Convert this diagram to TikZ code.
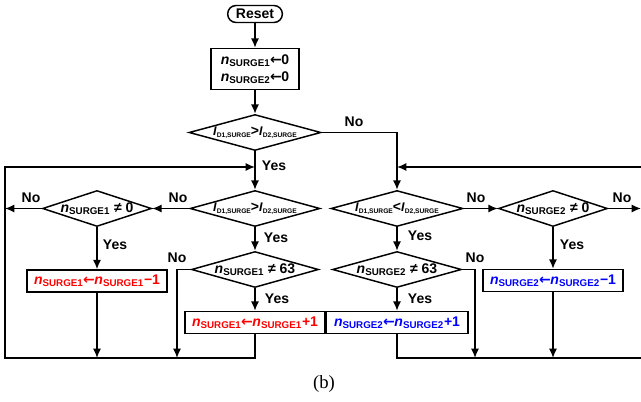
\documentclass[tikz,border=0pt]{standalone}
\usepackage{fontspec}
\setmainfont{Liberation Sans}
\newfontfamily\capfont{Liberation Serif}
\newfontfamily\arrfont{DejaVu Sans}
\usepackage{xcolor}
\usetikzlibrary{arrows.meta,shapes.geometric}
\definecolor{sred}{RGB}{255,0,0}
\definecolor{sblue}{RGB}{0,0,255}
\newcommand\nsg[1]{\textit{n}\textsubscript{SURGE#1}}
\newcommand\lar{{\arrfont\bfseries\kern-0.3pt←\kern-0.3pt}}
\newcommand\isg[1]{{\fontsize{9.4}{10}\selectfont\textit{I}}\raisebox{-1.6pt}{\fontsize{5}{6}\selectfont D#1,SURGE}}

\begin{document}
\begin{tikzpicture}[x=0.75pt,y=-0.75pt,line width=1.1pt,
    font=\bfseries\fontsize{10.5}{12.75}\selectfont,
    dia/.style={diamond,draw,inner sep=0pt,minimum height=27pt,minimum width=#1},
    blk/.style={draw,inner sep=0pt,minimum width=105pt,minimum height=16.5pt},
    arr/.style={-{Latex[length=7pt,width=6pt]}}]
    \useasboundingbox (0,0) rectangle (641,402);
    \node[draw,rounded corners=6.3pt,minimum width=41pt,minimum height=12.75pt,inner sep=0pt] (reset) at (255,14) {Reset};
    \node[draw,align=center,minimum width=66pt,minimum height=30.75pt,inner sep=0pt] (init) at (255,69) {\nsg1\lar0\\\nsg2\lar0};
    \node[dia=99pt,label=center:{\isg1>\isg2}] (d1) at (255,132.5) {};
    \node[dia=97.5pt,label=center:{\isg1>\isg2}] (dl1) at (255,208.5) {};
    \node[dia=81.75pt,label=center:{\nsg1 ≠ 0}] (dl2) at (97,208.5) {};
    \node[dia=95.25pt,label=center:{\nsg1 ≠ 63}] (dl4) at (255,269.5) {};
    \node[blk,text=sred] (bl3) at (97,281) {\nsg1\lar\nsg1−1};
    \node[blk,text=sred] (bl5) at (255,322.5) {\nsg1\lar\nsg1+1};
    \node[dia=99pt,label=center:{\isg1<\isg2}] (dr1) at (397,208.5) {};
    \node[dia=81.75pt,label=center:{\nsg2 ≠ 0}] (dr2) at (553,208.5) {};
    \node[dia=96.75pt,label=center:{\nsg2 ≠ 63}] (dr4) at (397,269.5) {};
    \node[blk,text=sblue] (br3) at (553,280.5) {\nsg2\lar\nsg2−1};
    \node[blk,text=sblue,minimum width=106.5pt] (br5) at (397,322.5) {\nsg2\lar\nsg2+1};

    \node (no1) at (354,122) {No};
    \node (yes1) at (274,166) {Yes};
    \node (no2) at (178,198) {No};
    \node (no3) at (31,198) {No};
    \node (yes2) at (276,238) {Yes};
    \node (yes3) at (115,245) {Yes};
    \node (no4) at (177,258) {No};
    \node (yes4) at (277,299) {Yes};
    \node (no5) at (476,198) {No};
    \node (no6) at (622,198) {No};
    \node (yes5) at (420,236) {Yes};
    \node (yes6) at (572,245) {Yes};
    \node (no7) at (475,258) {No};
    \node (yes7) at (420,299) {Yes};
    \node[font=\capfont\fontsize{14}{16}\selectfont] (cap) at (324,384) {(b)};

    \coordinate (lt) at (5,167);
    \coordinate (lb) at (5,358);
    \coordinate (jl) at (255,167);
    \coordinate (cl) at (177,358);
    \coordinate (rt) at (641,167);
    \coordinate (rb) at (641,358);
    \coordinate (jr) at (397,167);
    \coordinate (cr) at (475,358);

    \draw[arr] (reset) -- (init);
    \draw[arr] (init) -- (d1);
    \draw[arr] (d1) -- (dl1);
    \draw[arr] (d1.east) -| (dr1.north);
    \draw[arr] (dl1.west) -- (dl2.east);
    \draw[arr] (dl2.west) -- (dl2.west -| lt);
    \draw[arr] (dl2) -- (bl3);
    \draw[arr] (dl1) -- (dl4);
    \draw[arr] (dl4) -- (bl5);
    \draw[arr] (dl4.west) -| (cl);
    \draw[arr] (bl3) -- (bl3 |- lb);
    \draw[arr] (bl5) |- (lb) -- (lt) -- (jl);
    \draw[arr] (dr1.east) -- (dr2.west);
    \draw[arr] (dr2.east) -- (dr2.east -| rt);
    \draw[arr] (dr2) -- (br3);
    \draw[arr] (dr1) -- (dr4);
    \draw[arr] (dr4) -- (br5);
    \draw[arr] (dr4.east) -| (cr);
    \draw[arr] (br3) -- (br3 |- rb);
    \draw (br5) |- (rb);
    \draw[arr] (rt) -- (jr);
\end{tikzpicture}
\end{document}
